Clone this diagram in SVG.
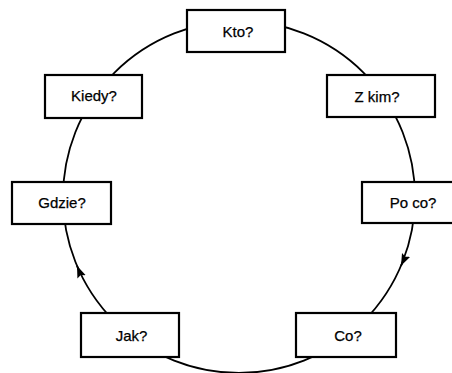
<svg xmlns="http://www.w3.org/2000/svg" width="452" height="373" viewBox="0 0 452 373">
<style>
.box{fill:#fff;stroke:#000;stroke-width:2.2}
.lbl{font-family:"Liberation Sans",Arial,sans-serif;font-size:15px;fill:#000;text-anchor:middle;stroke:#000;stroke-width:0.25}
.ring{fill:none;stroke:#000;stroke-width:1.8}
</style>
<defs>
<marker id="ah" markerUnits="userSpaceOnUse" markerWidth="14" markerHeight="10" refX="12" refY="4.5" orient="auto">
<path d="M0,0 L12,4.5 L0,9 L2,4.5 Z" fill="#000"/>
</marker>
</defs>
<rect width="452" height="373" fill="#fff"/>
<g id="connectors">
<circle class="ring" cx="239" cy="197" r="176"/>
<path class="ring" d="M403.8,259.5 A176,176 0 0,1 401,265.8" marker-end="url(#ah)"/>
<path class="ring" d="M79.7,272 A176,176 0 0,1 77,265.8" marker-end="url(#ah)"/>
</g>
<g id="kto"><rect class="box" x="187" y="10" width="98" height="42"/><text class="lbl" x="238" y="36.5">Kto?</text></g>
<g id="zkim"><rect class="box" x="327" y="75" width="108" height="42"/><text class="lbl" x="377" y="102">Z kim?</text></g>
<g id="poco"><rect class="box" x="362" y="182" width="102" height="41"/><text class="lbl" x="413" y="208">Po co?</text></g>
<g id="co"><rect class="box" x="296" y="313" width="100" height="44"/><text class="lbl" x="348" y="340.5">Co?</text></g>
<g id="jak"><rect class="box" x="81" y="313" width="98" height="44"/><text class="lbl" x="131.5" y="341">Jak?</text></g>
<g id="gdzie"><rect class="box" x="12" y="182" width="99" height="42"/><text class="lbl" x="62" y="207.5">Gdzie?</text></g>
<g id="kiedy"><rect class="box" x="45" y="75" width="97" height="43"/><text class="lbl" x="94" y="101">Kiedy?</text></g>
</svg>
